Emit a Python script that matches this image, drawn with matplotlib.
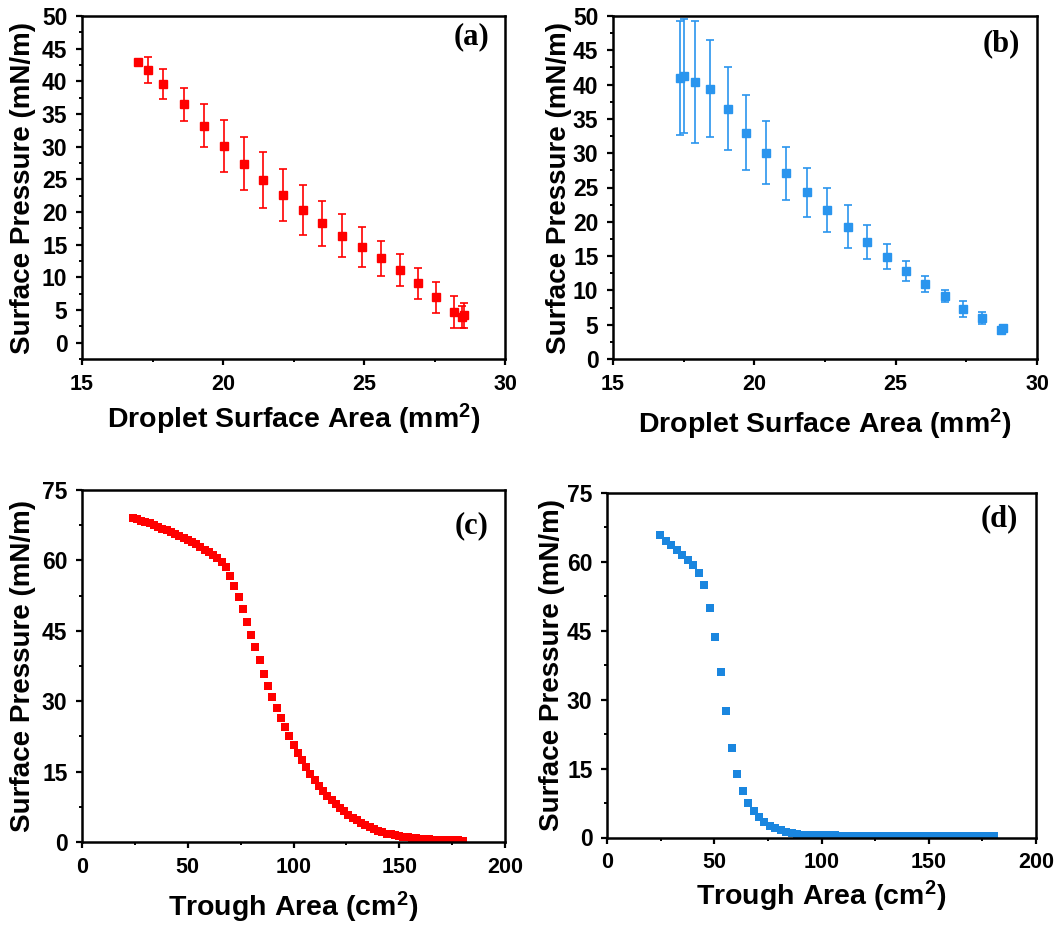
import matplotlib
matplotlib.use('Agg')
import matplotlib.pyplot as plt
from matplotlib.ticker import MultipleLocator

plt.rcParams['font.family'] = ['Liberation Sans', 'DejaVu Sans']
plt.rcParams['font.weight'] = 'bold'
plt.rcParams['mathtext.fontset'] = 'custom'
plt.rcParams['mathtext.rm'] = 'Liberation Sans:bold'
plt.rcParams['mathtext.bf'] = 'Liberation Sans:bold'
plt.rcParams['mathtext.default'] = 'bf'

# ---------------- data ----------------
a_x = [17.0, 17.35, 17.87, 18.6, 19.31, 20.02, 20.73, 21.43, 22.12, 22.83,
       23.52, 24.22, 24.92, 25.6, 26.27, 26.9, 27.54, 28.2, 28.49, 28.55]
a_y = [42.9, 41.7, 39.55, 36.5, 33.2, 30.1, 27.4, 24.9, 22.6, 20.3,
       18.25, 16.4, 14.7, 12.9, 11.1, 9.07, 6.93, 4.69, 3.87, 4.2]
a_err = [0.0, 2.0, 2.3, 2.5, 3.3, 4.0, 4.1, 4.25, 4.0, 3.8,
         3.5, 3.3, 3.05, 2.7, 2.4, 2.35, 2.4, 2.45, 1.7, 1.9]

b_x = [17.38, 17.50, 17.90, 18.44, 19.06, 19.72, 20.41, 21.11, 21.86, 22.58,
       23.30, 23.98, 24.70, 25.37, 26.04, 26.73, 27.39, 28.05, 28.74, 28.78]
b_y = [41.0, 41.2, 40.4, 39.4, 36.5, 33.0, 30.07, 27.07, 24.3, 21.77,
       19.29, 17.1, 14.9, 12.78, 10.93, 9.14, 7.29, 6.02, 4.2, 4.5]
b_err = [8.3, 8.3, 8.9, 7.1, 6.05, 5.45, 4.6, 3.85, 3.55, 3.2,
         3.1, 2.5, 1.85, 1.45, 1.1, 0.9, 1.1, 0.9, 0.5, 0.5]

c_x = [24, 26, 28, 30, 32, 34, 36, 38, 40, 42, 44, 46, 48, 50, 52, 54, 56, 58,
       60, 62, 64, 66, 68, 70, 72, 74, 76, 78, 80, 82, 84, 86, 88, 90, 92, 94,
       96, 98, 100, 102, 104, 106, 108, 110, 112, 114, 116, 118, 120, 122, 124,
       126, 128, 130, 132, 134, 136, 138, 140, 142, 144, 146, 148, 150, 152,
       154, 156, 158, 160, 162, 164, 166, 168, 170, 172, 174, 176, 178, 180]
c_y = [69.0, 68.8, 68.4, 68.2, 67.9, 67.5, 67.1, 66.7, 66.4, 66.0, 65.6, 65.15,
       64.8, 64.4, 63.9, 63.4, 62.9, 62.3, 61.8, 61.2, 60.5, 59.6, 58.6, 56.6,
       54.6, 52.1, 49.6, 46.8, 44.0, 41.6, 38.7, 35.9, 33.3, 30.9, 28.6, 26.4,
       24.4, 22.5, 20.7, 19.0, 17.4, 15.9, 14.4, 13.2, 12.0, 10.9, 9.8, 8.9,
       8.1, 7.3, 6.5, 5.8, 5.2, 4.6, 4.1, 3.6, 3.2, 2.8, 2.4, 2.05, 1.8, 1.6,
       1.45, 1.3, 1.15, 1.0, 0.9, 0.8, 0.7, 0.62, 0.55, 0.5, 0.46, 0.42, 0.39,
       0.36, 0.34, 0.32, 0.3]

d_x = [24.9, 27.5, 30.0, 32.6, 35.1, 37.7, 40.2, 42.8, 45.3, 47.9, 50.4, 53.0,
       55.5, 58.1, 60.6, 63.2, 65.7, 68.3, 70.8, 73.4, 75.9, 78.5, 81.0, 83.6,
       86.1, 88.7, 91.2, 93.8, 96.3, 98.9, 101.4, 104.0, 106.5, 109.1, 111.6,
       114.2, 116.7, 119.3, 121.8, 124.4, 126.9, 129.5, 132.0, 134.6, 137.1,
       139.7, 142.2, 144.8, 147.3, 149.9, 152.4, 155.0, 157.5, 160.1, 162.6,
       165.2, 167.7, 170.3, 172.8, 175.4, 177.9, 180.5]
d_y = [65.9, 64.6, 63.6, 62.5, 61.5, 60.4, 59.3, 57.6, 54.9, 50.0, 43.6, 36.0,
       27.6, 19.5, 13.8, 10.2, 7.6, 5.8, 4.4, 3.3, 2.5, 2.0, 1.6, 1.2, 0.95,
       0.75, 0.6, 0.5, 0.45, 0.45, 0.5, 0.5, 0.45, 0.4, 0.36, 0.34, 0.33, 0.32,
       0.31, 0.3, 0.3, 0.29, 0.29, 0.28, 0.28, 0.28, 0.27, 0.27, 0.27, 0.26,
       0.26, 0.26, 0.26, 0.25, 0.25, 0.25, 0.25, 0.25, 0.25, 0.25, 0.25, 0.25]

RED = '#FF0000'
BLUE_B = '#2A95EE'
BLUE_D = '#1A86DF'

fig = plt.figure(figsize=(10.59, 9.27), dpi=100)
W, H = 1059, 927


def make_ax(l, r, t, b):
    return fig.add_axes([l / W, 1 - b / H, (r - l) / W, (b - t) / H])


ax_a = make_ax(82, 505, 16, 359)
ax_b = make_ax(613, 1037, 16, 359)
ax_c = make_ax(82, 505, 490, 842)
ax_d = make_ax(607, 1036, 493, 837.5)

ax_a.errorbar(a_x, a_y, yerr=a_err, fmt='s', color=RED, ecolor=RED, ms=5.5,
              capsize=3, elinewidth=1.2, capthick=1.2)
ax_b.errorbar(b_x, b_y, yerr=b_err, fmt='s', color=BLUE_B, ecolor=BLUE_B, ms=5.5,
              capsize=3, elinewidth=1.2, capthick=1.2)
ax_c.plot(c_x, c_y, 's', color=RED, ms=5.2, mew=0)
ax_d.plot(d_x, d_y, 's', color=BLUE_D, ms=5.2, mew=0)

for ax in (ax_a, ax_b):
    ax.set_xlim(15, 30)
    ax.xaxis.set_major_locator(MultipleLocator(5))
    ax.xaxis.set_minor_locator(MultipleLocator(2.5))
    ax.yaxis.set_major_locator(MultipleLocator(5))
    ax.yaxis.set_minor_locator(MultipleLocator(2.5))
    ax.set_xlabel('Droplet Surface Area (mm$^2$)', fontsize=20.5, fontweight='bold')
ax_a.set_ylim(-2.5, 50)
ax_b.set_ylim(0, 50)

for ax in (ax_c, ax_d):
    ax.set_xlim(0, 200)
    ax.set_ylim(0, 75)
    ax.xaxis.set_major_locator(MultipleLocator(50))
    ax.xaxis.set_minor_locator(MultipleLocator(25))
    ax.yaxis.set_major_locator(MultipleLocator(15))
    ax.yaxis.set_minor_locator(MultipleLocator(7.5))
    ax.set_xlabel('Trough Area (cm$^2$)', fontsize=20.5, fontweight='bold')

for ax in (ax_a, ax_b, ax_c, ax_d):
    ax.set_ylabel('Surface Pressure (mN/m)', fontsize=20, fontweight='bold')
    for s in ax.spines.values():
        s.set_linewidth(1.8)
    ax.tick_params(which='major', direction='out', length=4.5, width=1.6,
                   pad=6, top=False, right=False)
    ax.tick_params(axis='x', which='major', labelsize=15.5)
    ax.tick_params(axis='y', which='major', labelsize=16.5)
    ax.tick_params(which='minor', direction='out', length=2.5, width=1.4,
                   top=False, right=False)
    for lab in ax.get_xticklabels() + ax.get_yticklabels():
        lab.set_fontweight('bold')

ax_a.xaxis.set_label_coords(0.5, -0.125)
ax_a.yaxis.set_label_coords(-0.109, 0.5)
ax_b.xaxis.set_label_coords(0.5, -0.140)
ax_b.yaxis.set_label_coords(-0.097, 0.5)
ax_c.xaxis.set_label_coords(0.5, -0.136)
ax_c.yaxis.set_label_coords(-0.109, 0.5)
ax_d.xaxis.set_label_coords(0.5, -0.120)
ax_d.yaxis.set_label_coords(-0.097, 0.5)

letter_kw = dict(fontsize=22, fontweight='bold', ha='center', va='center',
                 family=['Liberation Serif', 'DejaVu Serif'])
ax_a.text(0.920, 0.939, '(a)', transform=ax_a.transAxes, **letter_kw)
ax_b.text(0.915, 0.918, '(b)', transform=ax_b.transAxes, **letter_kw)
ax_c.text(0.922, 0.898, '(c)', transform=ax_c.transAxes, **letter_kw)
ax_d.text(0.914, 0.925, '(d)', transform=ax_d.transAxes, **letter_kw)

fig.savefig('out.png', dpi=100)
